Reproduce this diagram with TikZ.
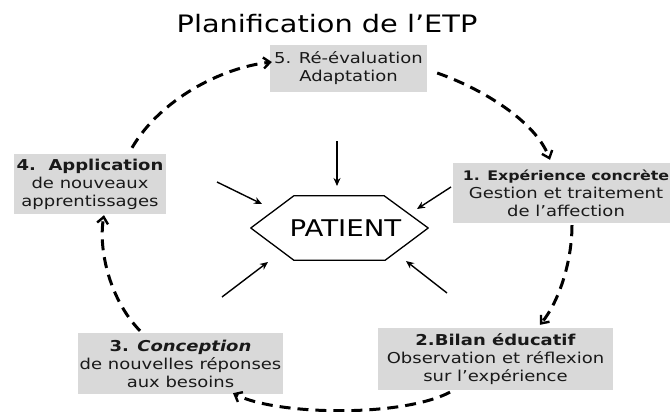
\documentclass[tikz,border=0pt]{standalone}
\usepackage{fontspec}
\setmainfont{DejaVu Sans}[FakeStretch=1.2]
\usetikzlibrary{arrows.meta,calc}
\definecolor{boxgray}{RGB}{217,217,217}
\definecolor{ink}{RGB}{25,25,25}

\begin{document}
\begin{tikzpicture}[x=1pt,y=-1pt,
  stage/.style={fill=boxgray, inner sep=0pt, align=center, text=ink,
    font=\fontsize{15}{18}\selectfont},
  loop/.style={line width=3pt, dash pattern=on 11pt off 7pt,
    -{Straight Barb[length=6.5pt,width=11pt,line width=2.4pt]}},
  push/.style={line width=1.4pt, -{Stealth[length=8pt,width=7pt]}},
]
\useasboundingbox (0,0) rectangle (670,412);
\clip (0,0) rectangle (670,412);

% title
\node[anchor=base, font=\fontsize{24}{28}\selectfont] (title) at (327,33)
  {Planification de l'ETP};

% the five stages of the cycle
\node[stage, minimum width=157pt, minimum height=47pt] (b5) at (348.5,68.5)
  {5. Ré-évaluation\\Adaptation};
\node[stage, minimum width=152pt, minimum height=60pt] (b4) at (90,184)
  {\textbf{4.\ \ Application}\\de nouveaux\\apprentissages};
\node[stage, minimum width=227pt, minimum height=60pt] (b1) at (566,193)
  {{\fontsize{13.2}{18}\selectfont\textbf{1. Expérience concrète}}\\Gestion et traitement\\de l'affection};
\node[stage, minimum width=235pt, minimum height=62pt] (b2) at (495.5,359)
  {\textbf{2.Bilan éducatif}\\Observation et réflexion\\sur l'expérience};
\node[stage, minimum width=205pt, minimum height=61pt] (b3) at (180.5,363.5)
  {\textbf{3. \textit{Conception}}\\de nouvelles réponses\\aux besoins};

% patient in the centre
\node[minimum width=177pt, minimum height=64pt, inner sep=0pt,
  font=\fontsize{23}{26}\selectfont] (P) at (339.5,228) {\hspace{12pt}PATIENT};
\draw[line width=1.3pt, line join=round]
  (P.west) -- ($(P.north west)+(43,0)$) -- ($(P.north east)+(-44,0)$)
  -- (P.east) -- ($(P.south east)+(-43,0)$) -- ($(P.south west)+(43,0)$) -- cycle;

% arrows pointing at the patient
\coordinate (t1) at (337,141);  \coordinate (h1) at (337,186);
\coordinate (t2) at (217,182);  \coordinate (h2) at (262,204);
\coordinate (t3) at (451,187);  \coordinate (h3) at (417,209);
\coordinate (t4) at (222,297);  \coordinate (h4) at (268,262);
\coordinate (t5) at (447,293);  \coordinate (h5) at (406,261);
\foreach \i in {1,...,5} \draw[push] (t\i) -- (h\i);

% dashed cycle between the stages
\draw[loop] ($(b4.north)+(42,-6)$) .. controls (160,100) and (220,68)
  .. ($(b5.west)+(2,-6.5)$);
\draw[loop] ($(b5.east)+(10,4.5)$) .. controls (480,88) and (535,120)
  .. ($(b1.north)+(-16,-3)$);
\draw[loop] ($(b1.south)+(6,2)$) .. controls (572,260) and (560,300)
  .. ($(b2.north)+(44.5,-3)$);
\draw[loop] ($(b2.south)+(-45.5,2)$) .. controls (400,418) and (275,415)
  .. ($(b3.south)+(52.5,-1)$);
\draw[loop] ($(b3.north)+(-40.5,-2)$) .. controls (110,300) and (98,250)
  .. ($(b4.south)+(14,1)$);
\end{tikzpicture}
\end{document}
